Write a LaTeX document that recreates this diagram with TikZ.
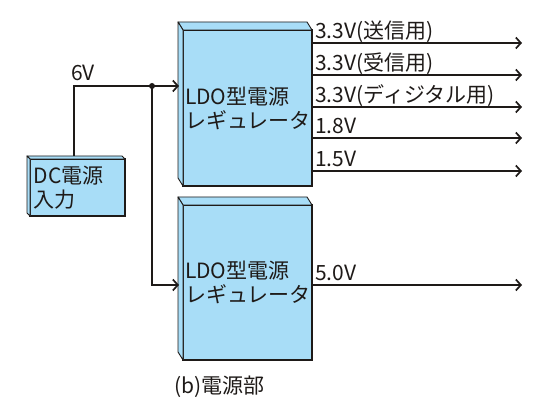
\documentclass[tikz,border=0pt]{standalone}
\usepackage{fontspec}
\setmainfont{Noto Sans CJK JP}
\usetikzlibrary{arrows.meta}
\definecolor{boxblue}{RGB}{168,221,247}
\definecolor{ink}{RGB}{30,26,24}
\begin{document}
\begin{tikzpicture}[x=1pt,y=-1pt,
  font=\fontsize{21}{24}\selectfont, color=ink,
  box/.style={draw=ink, line width=1.1pt, fill=boxblue, anchor=north west, outer sep=0pt, inner sep=3pt, align=left},
  bevel/.style={draw=ink, fill=boxblue, line width=0.9pt, line join=round},
  wire/.style={line width=1.7pt},
  arr/.style={wire, -{Straight Barb[length=5pt,width=11pt]}},
  lbl/.style={anchor=base west, inner sep=0pt}
]
\useasboundingbox (0,0) rectangle (550,414);

\node[box, minimum width=95pt, minimum height=57pt, text width=87pt, inner xsep=4pt] (dc) at (30,159) {DC電源\\入力};
\node[box, minimum width=129pt, minimum height=156pt, text width=125pt, inner xsep=2pt] (ldo1) at (183,30) {LDO型電源\\レギュレータ};
\node[box, minimum width=129pt, minimum height=155pt, text width=125pt, inner xsep=2pt] (ldo2) at (183,205) {LDO型電源\\レギュレータ};

\foreach \n/\dx/\dy in {dc/3/3, ldo1/5/8, ldo2/5/8}{
  \filldraw[bevel] (\n.north west) -- ++(-\dx,-\dy) -- ([shift={(-\dx,-\dy)}]\n.north east) -- (\n.north east) -- cycle;
  \filldraw[bevel] (\n.north west) -- ++(-\dx,-\dy) -- ([shift={(-\dx,-\dy)}]\n.south west) -- (\n.south west) -- cycle;
}

\coordinate (j) at (152,86);
\coordinate (in1) at (179,86);
\coordinate (in2) at (179,285);
\draw[arr] ([xshift=44pt,yshift=3pt]dc.north west) |- (in1);
\draw[arr] (j) |- (in2);
\fill (j) circle (3pt);
\node[lbl] (v6) at (71,81) {6V};

\foreach \i/\y/\t in {1/43/{3.3V(送信用)}, 2/75/{3.3V(受信用)}, 3/107/{3.3V(ディジタル用)}, 4/138/{1.8V}, 5/171/{1.5V}}{
  \coordinate (s\i) at (ldo1.east |- 0,\y);
  \coordinate (e\i) at (522,\y);
  \draw[arr] (s\i) -- (e\i);
  \node[lbl] (l\i) at (315,\y-4) {\t};
}
\coordinate (s6) at (ldo2.east |- 0,285);
\coordinate (e6) at (522,285);
\draw[arr] (s6) -- (e6);
\node[lbl] (l6) at (315,281) {5.0V};

\node[lbl] (cap) at (174,394) {(b)電源部};
\end{tikzpicture}
\end{document}
